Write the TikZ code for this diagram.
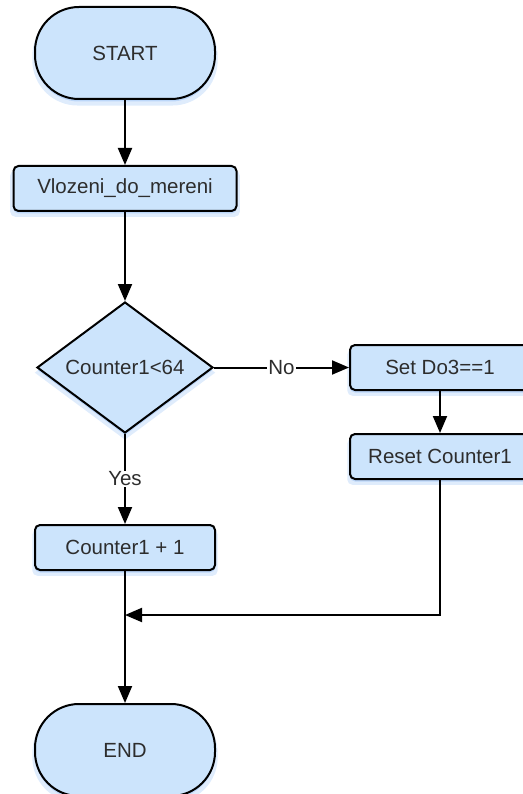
\documentclass[tikz,border=0pt]{standalone}
\usepackage{fontspec}
\setmainfont{Liberation Sans}
\usepackage{tikz}
\usetikzlibrary{shapes, shadows, arrows.meta, positioning}
\definecolor{boxfill}{RGB}{204,228,252}
\definecolor{glowblue}{RGB}{80,150,240}
\definecolor{labelgray}{RGB}{45,45,45}

\begin{document}
\begin{tikzpicture}[x=1pt, y=-1pt,
    glow/.style={general shadow={fill=glowblue, opacity=.18, shadow yshift=-5pt, shadow scale=1.03},
                 general shadow={fill=glowblue, opacity=.25, shadow yshift=-2.5pt}},
    base/.style={draw, line width=2pt, fill=boxfill, text=labelgray,
                 font=\fontsize{20.5}{24}\selectfont, inner sep=0pt, glow},
    terminal/.style={base, rounded corners=44pt, minimum width=180pt, minimum height=92pt},
    process/.style={base, rounded corners=5pt, minimum width=180pt, minimum height=45pt},
    decision/.style={base, diamond, aspect=1.34, minimum width=176pt, minimum height=131pt},
    flow/.style={line width=2pt, -{Triangle[length=17pt, width=14pt]}},
    edgelabel/.style={fill=white, text=labelgray, font=\fontsize{20.5}{24}\selectfont, inner sep=1pt}
  ]
  \useasboundingbox (0,0) rectangle (522,794);

  % main column
  \node[terminal] (start) at (125,53) {START};
  \node[process, minimum width=223pt] (load) at (125,188.5) {Vlozeni\_do\_mereni};
  \node[decision] (check) at (125,367.5) {Counter1<64};
  \node[process] (incr) at (125,547.5) {Counter1 + 1};
  \node[terminal] (stop) at (125,750) {END};

  % "No" branch
  \node[process] (setdo) at (440,367.5) {Set Do3==1};
  \node[process] (reset) at (440,456.5) {Reset Counter1};

  \coordinate (join) at (125,615);

  \draw[flow] (start.south) -- (load.north);
  \draw[flow] (load.south) -- (check.north);
  \draw[flow] (check.east) -- node[edgelabel] {No} (setdo.west);
  \draw[flow] (setdo.south) -- (reset.north);
  \draw[flow] (check.south) -- node[edgelabel] {Yes} (incr.north);
  \draw[line width=2pt] (incr.south) -- (join);
  \draw[flow] (join) -- (stop.north);
  \draw[flow] (reset.south) |- (join);
\end{tikzpicture}
\end{document}
